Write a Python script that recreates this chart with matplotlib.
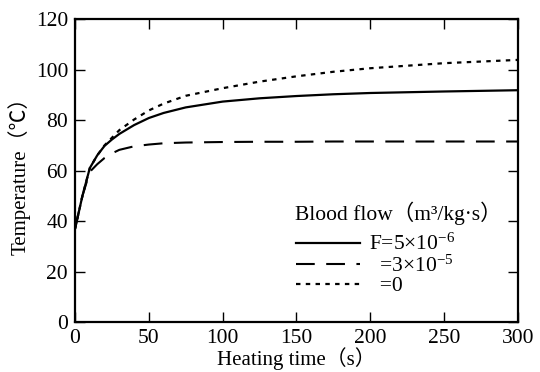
import matplotlib
matplotlib.use("Agg")
import matplotlib.pyplot as plt

# -----------------------------------
# Data
# -----------------------------------
time_s = [0, 5, 10, 15, 20, 25, 30, 40, 50, 60, 75, 100, 125, 150, 175, 200, 250, 300]
temp_f5e6 = [37, 50, 61, 66, 69.8, 72.3, 74.5, 78, 80.8, 82.8, 85, 87.3, 88.6, 89.5, 90.2, 90.7, 91.3, 91.8]
temp_f3e5 = [37, 50, 59.5, 62.5, 65, 66.8, 68.2, 69.6, 70.3, 70.8, 71.1, 71.3, 71.4, 71.4, 71.5, 71.5, 71.5, 71.5]
temp_f0 = [37, 50, 61, 66, 70, 73, 76, 80.2, 83.8, 86.5, 89.6, 92.6, 95.2, 97.3, 99.1, 100.5, 102.5, 103.8]

legend_title = "Blood flow（m³/kg·s）"
labels = ["F=5×10$^{-6}$", "  =3×10$^{-5}$", "  =0"]

plt.rcParams["font.family"] = ["Liberation Serif", "Noto Sans CJK SC", "DejaVu Sans"]
plt.rcParams["mathtext.fontset"] = "custom"
plt.rcParams["mathtext.rm"] = "Liberation Serif"
plt.rcParams["mathtext.it"] = "Liberation Serif"

fig = plt.figure(figsize=(5.4, 3.72), dpi=100)
ax = fig.add_axes([0.139, 0.134, 0.820, 0.815])

l1, = ax.plot(time_s, temp_f5e6, color="black", lw=1.6)
l2, = ax.plot(time_s, temp_f3e5, color="black", lw=1.5, linestyle=(0, (9, 5.5)))
l3, = ax.plot(time_s, temp_f0, color="black", lw=1.6, linestyle=(0, (2, 2.4)))

ax.set_xlim(0, 300)
ax.set_ylim(0, 120)
ax.set_xticks(range(0, 301, 50))
ax.set_yticks(range(0, 121, 20))
ax.tick_params(direction="in", length=7, width=1, top=True, right=True,
               labelsize=15.5)
ax.tick_params(axis="x", pad=5)
ax.tick_params(axis="y", pad=5)
for sp in ax.spines.values():
    sp.set_linewidth(1.6)

ax.set_xlabel("Heating time（s）", fontsize=15, labelpad=-1)
ax.set_ylabel("Temperature（℃）", fontsize=15, labelpad=4)

# legend: title as text, entries below
ax.text(0.497, 0.36, legend_title, transform=ax.transAxes, fontsize=15.5,
        ha="left", va="center")
ax.legend([l1, l2, l3], labels, loc="center left",
          bbox_to_anchor=(0.499, 0.188), frameon=False, fontsize=15.5,
          handlelength=2.95, labelspacing=0.0, handletextpad=0.45,
          borderpad=0, borderaxespad=0)

fig.savefig("out.png", dpi=100)
